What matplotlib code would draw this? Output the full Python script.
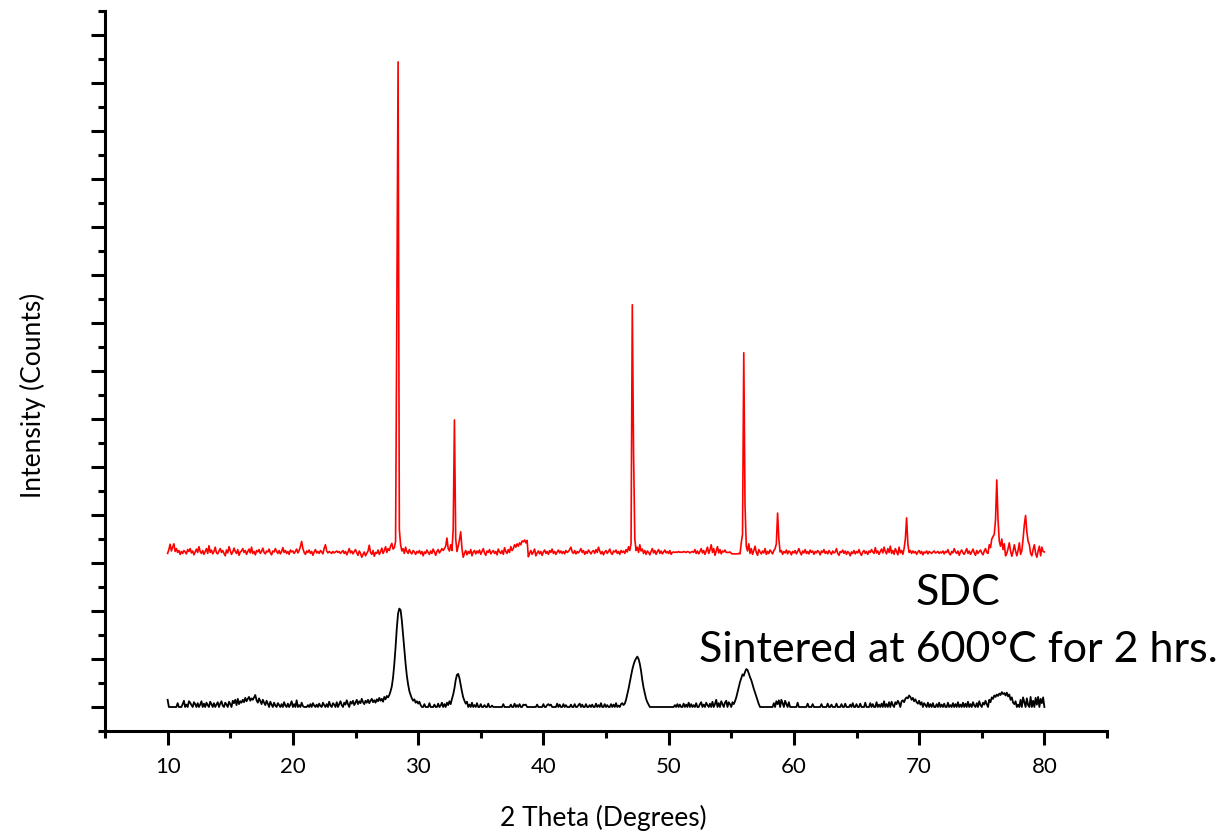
import numpy as np
import matplotlib
matplotlib.use("Agg")
import matplotlib.pyplot as plt
from matplotlib.ticker import MultipleLocator

plt.rcParams['font.family'] = ['Lato', 'DejaVu Sans']

# 2-theta scan, 10-80 deg in 0.1 deg steps
two_theta = np.linspace(10, 80, 701)

# upper (red) scan, one row per degree
red_rows = [
    [3200, 3280, 3390, 3250, 3330, 3400, 3240, 3300, 3220, 3260],  # 10
    [3180, 3240, 3200, 3260, 3230, 3190, 3280, 3240, 3300, 3210],
    [3250, 3170, 3230, 3290, 3220, 3340, 3240, 3200, 3260, 3180],
    [3240, 3300, 3200, 3360, 3220, 3270, 3190, 3240, 3330, 3210],
    [3190, 3250, 3300, 3220, 3260, 3200, 3150, 3270, 3210, 3340],
    [3260, 3180, 3230, 3310, 3240, 3200, 3280, 3160, 3230, 3250],  # 15
    [3300, 3220, 3260, 3180, 3240, 3290, 3210, 3330, 3200, 3240],
    [3170, 3260, 3230, 3280, 3200, 3240, 3310, 3220, 3190, 3250],
    [3230, 3290, 3210, 3170, 3250, 3230, 3300, 3240, 3200, 3260],
    [3190, 3240, 3320, 3220, 3260, 3200, 3240, 3180, 3270, 3230],
    [3250, 3200, 3240, 3290, 3210, 3260, 3340, 3450, 3300, 3220],  # 20
    [3180, 3250, 3220, 3270, 3200, 3240, 3160, 3230, 3280, 3210],
    [3240, 3200, 3260, 3230, 3190, 3310, 3380, 3250, 3210, 3240],
    [3220, 3200, 3240, 3210, 3230, 3250, 3220, 3240, 3200, 3230],
    [3260, 3200, 3240, 3170, 3230, 3300, 3210, 3250, 3190, 3240],
    [3280, 3210, 3160, 3250, 3200, 3120, 3180, 3230, 3150, 3200],  # 25
    [3250, 3370, 3220, 3180, 3260, 3140, 3220, 3200, 3270, 3180],
    [3230, 3310, 3200, 3260, 3340, 3220, 3300, 3260, 3350, 3410],
    [3290, 3320, 3450, 8200, 13440, 3700, 3380, 3250, 3300, 3200],
    [3330, 3240, 3200, 3280, 3220, 3190, 3260, 3230, 3180, 3240],
    [3210, 3260, 3190, 3240, 3150, 3230, 3200, 3270, 3220, 3180],  # 30
    [3250, 3200, 3290, 3230, 3160, 3240, 3280, 3210, 3250, 3300],
    [3260, 3300, 3350, 3520, 3300, 3250, 3380, 3260, 3700, 5980],
    [3500, 3240, 3350, 3480, 3650, 3300, 3120, 3200, 3260, 3170],
    [3240, 3200, 3280, 3150, 3230, 3260, 3190, 3250, 3210, 3270],
    [3180, 3240, 3300, 3210, 3160, 3250, 3220, 3280, 3190, 3230],  # 35
    [3260, 3200, 3240, 3170, 3290, 3230, 3200, 3260, 3180, 3320],
    [3240, 3200, 3280, 3220, 3340, 3260, 3300, 3380, 3330, 3400],
    [3350, 3420, 3380, 3460, 3440, 3480, 3420, 3470, 3130, 3200],
    [3260, 3180, 3230, 3290, 3150, 3210, 3250, 3190, 3240, 3160],
    [3230, 3270, 3200, 3240, 3180, 3260, 3220, 3290, 3200, 3240],  # 40
    [3180, 3230, 3270, 3210, 3250, 3200, 3240, 3190, 3260, 3220],
    [3240, 3280, 3330, 3230, 3200, 3260, 3190, 3240, 3210, 3250],
    [3300, 3220, 3260, 3180, 3240, 3200, 3270, 3230, 3190, 3240],
    [3260, 3200, 3280, 3220, 3330, 3250, 3190, 3240, 3170, 3230],
    [3260, 3200, 3240, 3290, 3210, 3180, 3250, 3230, 3270, 3200],  # 45
    [3240, 3180, 3260, 3220, 3250, 3200, 3280, 3230, 3340, 3260],
    [3400, 8380, 5300, 3500, 3260, 3330, 3220, 3380, 3250, 3290],
    [3200, 3260, 3180, 3250, 3220, 3170, 3240, 3300, 3210, 3260],
    [3180, 3240, 3280, 3200, 3250, 3190, 3230, 3270, 3210, 3240],
    [3200, 3260, 3180, 3220, 3230, 3220, 3230, 3220, 3240, 3220],  # 50
    [3230, 3220, 3240, 3230, 3220, 3240, 3230, 3210, 3230, 3240],
    [3220, 3280, 3200, 3250, 3190, 3240, 3300, 3210, 3260, 3180],
    [3250, 3330, 3200, 3270, 3380, 3220, 3300, 3160, 3250, 3340],
    [3210, 3280, 3190, 3250, 3230, 3270, 3220, 3220, 3220, 3230],
    [3200, 3190, 3190, 3190, 3190, 3190, 3200, 3190, 3420, 3600],  # 55
    [7380, 4200, 3350, 3250, 3400, 3200, 3300, 3180, 3260, 3350],
    [3220, 3160, 3280, 3230, 3190, 3250, 3210, 3300, 3180, 3240],
    [3200, 3270, 3230, 3190, 3260, 3300, 3400, 4040, 3500, 3230],
    [3260, 3180, 3240, 3210, 3270, 3190, 3250, 3230, 3170, 3240],
    [3210, 3260, 3190, 3240, 3300, 3220, 3170, 3250, 3210, 3280],  # 60
    [3200, 3240, 3190, 3270, 3220, 3250, 3180, 3240, 3210, 3260],
    [3230, 3170, 3250, 3220, 3280, 3200, 3240, 3190, 3260, 3220],
    [3180, 3250, 3210, 3230, 3300, 3200, 3160, 3240, 3220, 3270],
    [3200, 3250, 3180, 3240, 3210, 3150, 3230, 3200, 3260, 3190],
    [3240, 3210, 3280, 3200, 3160, 3230, 3260, 3200, 3240, 3180],  # 65
    [3250, 3220, 3280, 3230, 3200, 3320, 3210, 3250, 3180, 3240],
    [3290, 3210, 3330, 3240, 3190, 3300, 3220, 3350, 3200, 3260],
    [3180, 3300, 3240, 3170, 3330, 3210, 3260, 3180, 3300, 3500],
    [3940, 3400, 3220, 3260, 3200, 3250, 3210, 3240, 3180, 3230],
    [3260, 3200, 3240, 3170, 3230, 3210, 3250, 3190, 3240, 3220],  # 70
    [3200, 3230, 3250, 3210, 3220, 3240, 3200, 3230, 3210, 3250],
    [3190, 3240, 3220, 3280, 3200, 3170, 3240, 3210, 3300, 3230],
    [3200, 3250, 3160, 3230, 3270, 3210, 3180, 3240, 3300, 3200],
    [3250, 3180, 3230, 3290, 3210, 3160, 3260, 3200, 3240, 3270],
    [3210, 3170, 3250, 3300, 3220, 3200, 3380, 3320, 3500, 3550],  # 75
    [3600, 3900, 4730, 3900, 3450, 3350, 3500, 3280, 3400, 3150],
    [3200, 3300, 3420, 3250, 3140, 3240, 3380, 3250, 3150, 3260],
    [3420, 3180, 3260, 3500, 3800, 3990, 3650, 3450, 3380, 3200],
    [3150, 3280, 3380, 3200, 3120, 3250, 3350, 3150, 3330, 3240],
    [3230],  # 80
]

# lower (black) scan
black_rows = [
    [150, 0, 0, 0, 0, 0, 0, 0, 80, 0],  # 10
    [0, 0, 60, 130, 0, 50, 0, 120, 90, 40],
    [0, 100, 60, 0, 80, 0, 50, 120, 0, 70],
    [0, 90, 40, 0, 110, 60, 0, 80, 0, 50],
    [100, 0, 70, 120, 30, 0, 90, 50, 0, 110],
    [60, 0, 130, 80, 150, 40, 170, 60, 120, 90],  # 15
    [150, 100, 190, 120, 170, 210, 130, 180, 150, 200],
    [250, 140, 90, 180, 120, 60, 150, 90, 40, 130],
    [70, 0, 110, 50, 0, 90, 30, 0, 80, 40],
    [0, 60, 0, 100, 30, 0, 70, 0, 50, 120],
    [0, 60, 0, 140, 0, 40, 0, 90, 20, 0],  # 20
    [0, 0, 40, 0, 60, 0, 80, 30, 0, 50],
    [0, 70, 20, 0, 90, 40, 0, 60, 0, 110],
    [30, 0, 80, 50, 0, 100, 0, 60, 120, 40],
    [0, 90, 50, 140, 60, 0, 110, 70, 130, 40],
    [90, 150, 60, 120, 80, 170, 100, 60, 130, 90],  # 25
    [150, 80, 130, 170, 100, 140, 90, 160, 120, 190],
    [130, 170, 110, 210, 160, 230, 200, 250, 330, 430],
    [620, 900, 1250, 1650, 1950, 2050, 2020, 1800, 1500, 1180],
    [900, 650, 470, 330, 250, 180, 130, 160, 90, 120],
    [70, 110, 40, 0, 0, 60, 0, 0, 0, 80],  # 30
    [0, 0, 0, 50, 0, 0, 70, 0, 30, 90],
    [0, 60, 0, 90, 40, 120, 60, 170, 260, 390],
    [560, 670, 690, 600, 460, 320, 200, 130, 70, 110],
    [0, 50, 0, 90, 0, 40, 0, 80, 0, 0],
    [60, 0, 0, 40, 0, 0, 70, 0, 0, 30],  # 35
    [0, 0, 0, 0, 0, 0, 0, 0, 60, 0],
    [0, 0, 0, 0, 50, 0, 0, 70, 0, 40],
    [0, 60, 0, 0, 50, 40, 50, 0, 0, 0],
    [0, 0, 0, 0, 0, 50, 0, 0, 0, 0],
    [60, 0, 0, 40, 60, 30, 50, 0, 0, 0],  # 40
    [0, 70, 0, 50, 0, 0, 60, 0, 40, 0],
    [0, 0, 50, 0, 0, 60, 0, 0, 40, 70],
    [0, 50, 0, 0, 60, 0, 0, 40, 0, 50],
    [0, 0, 70, 0, 40, 0, 80, 0, 0, 60],
    [0, 40, 0, 0, 60, 0, 50, 0, 80, 0],  # 45
    [30, 0, 60, 80, 40, 70, 150, 260, 380, 520],
    [650, 780, 880, 960, 1010, 1050, 1000, 900, 750, 560],
    [400, 280, 170, 100, 50, 0, 0, 0, 0, 0],
    [0, 0, 0, 0, 0, 0, 0, 0, 0, 0],
    [0, 0, 0, 0, 0, 40, 0, 60, 0, 50],  # 50
    [0, 0, 70, 0, 50, 0, 90, 0, 60, 0],
    [40, 0, 80, 0, 0, 60, 100, 0, 50, 0],
    [90, 40, 0, 70, 0, 110, 0, 60, 150, 0],
    [80, 0, 120, 60, 0, 90, 130, 0, 100, 60],
    [0, 100, 60, 120, 200, 310, 420, 520, 600, 680],  # 55
    [650, 730, 790, 770, 700, 620, 560, 470, 380, 300],
    [220, 140, 60, 0, 0, 0, 0, 0, 0, 0],
    [0, 0, 0, 0, 80, 0, 120, 60, 140, 0],
    [150, 80, 0, 130, 60, 0, 100, 0, 0, 0],
    [0, 0, 0, 90, 0, 0, 0, 0, 0, 0],  # 60
    [0, 70, 0, 0, 0, 60, 0, 0, 0, 0],
    [0, 0, 60, 0, 0, 0, 0, 70, 0, 0],
    [50, 0, 0, 0, 70, 0, 0, 0, 60, 0],
    [0, 70, 0, 0, 0, 50, 0, 80, 0, 0],
    [60, 0, 0, 70, 0, 0, 0, 90, 0, 0],  # 65
    [0, 80, 0, 60, 0, 0, 100, 0, 50, 0],
    [70, 0, 120, 0, 60, 0, 100, 0, 110, 40],
    [0, 100, 60, 130, 80, 0, 120, 140, 100, 170],
    [200, 180, 240, 210, 150, 190, 120, 160, 100, 70],
    [130, 50, 100, 0, 80, 40, 0, 90, 0, 60],  # 70
    [0, 80, 0, 0, 60, 0, 90, 0, 50, 0],
    [70, 0, 0, 90, 0, 40, 0, 80, 0, 60],
    [0, 100, 0, 50, 0, 90, 0, 70, 0, 110],
    [0, 60, 0, 100, 30, 0, 80, 0, 120, 40],
    [0, 90, 50, 130, 60, 0, 150, 100, 200, 170],  # 75
    [240, 210, 260, 230, 280, 250, 310, 270, 290, 240],
    [300, 220, 260, 150, 200, 90, 60, 120, 0, 50],
    [0, 150, 0, 200, 100, 0, 180, 40, 0, 210],
    [0, 130, 0, 190, 50, 210, 0, 170, 80, 200],
    [0],  # 80
]

red_counts = [v for row in red_rows for v in row]
black_counts = [v for row in black_rows for v in row]

fig = plt.figure(figsize=(12.29, 8.35), dpi=100)
ax = fig.add_axes([105 / 1229, 1 - 731 / 835, 1002 / 1229, 720 / 835])

ax.plot(two_theta, red_counts, color='#ff0000', lw=1.2)
ax.plot(two_theta, black_counts, color='black', lw=1.3)

ax.set_xlim(5, 85)
ax.set_ylim(-500, 14500)

for side in ('top', 'right'):
    ax.spines[side].set_visible(False)
for side in ('left', 'bottom'):
    ax.spines[side].set_linewidth(2.2)

ax.xaxis.set_major_locator(MultipleLocator(10))
ax.xaxis.set_minor_locator(MultipleLocator(5))
ax.yaxis.set_major_locator(MultipleLocator(1000))
ax.yaxis.set_minor_locator(MultipleLocator(500))
ax.tick_params(which='major', direction='out', length=10, width=2.2)
ax.tick_params(which='minor', direction='out', length=5, width=2.2)
ax.tick_params(axis='x', labelsize=16, pad=9)
ax.tick_params(axis='y', labelleft=False)

fig.text(603 / 1229, 1 - 818 / 835, '2 Theta (Degrees)', fontsize=19,
         ha='center', va='center')
fig.text(33 / 1229, 1 - 395 / 835, 'Intensity (Counts)', fontsize=19,
         rotation=90, ha='center', va='center')

fig.text(958 / 1229, 1 - 605 / 835, 'SDC', fontsize=31,
         ha='center', va='baseline')
fig.text(958 / 1229, 1 - 662 / 835, 'Sintered at 600°C for 2 hrs.', fontsize=31,
         ha='center', va='baseline')

fig.savefig('out.png', dpi=100)
